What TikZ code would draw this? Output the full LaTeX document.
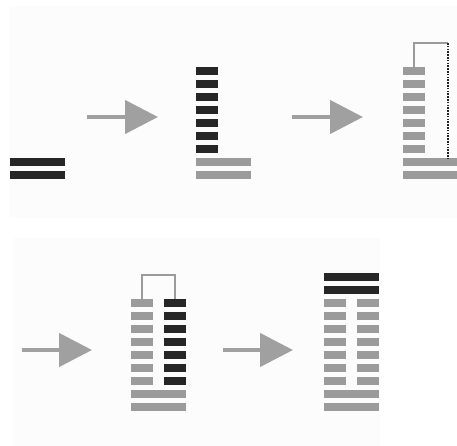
\documentclass[tikz,border=0pt]{standalone}
\usepackage{tikz}
\usetikzlibrary{positioning, arrows.meta}
\definecolor{stDark}{HTML}{262626}
\definecolor{stGray}{HTML}{9B9B9B}
\definecolor{stArrow}{HTML}{A0A0A0}
\definecolor{stPanel}{HTML}{FCFCFC}
\tikzset{
    stBarBase/.style={
        rectangle,
        inner sep=0pt,
        outer sep=0pt,
        minimum height=8pt,
        anchor=north west
    },
    % Bar variants
    shortDark/.style={stBarBase, minimum width=22pt, fill=stDark},
    shortGray/.style={stBarBase, minimum width=22pt, fill=stGray},
    longDark/.style={stBarBase, minimum width=55pt, fill=stDark},
    longGray/.style={stBarBase, minimum width=55pt, fill=stGray},
    % Arrows and links
    stArrowBase/.style={-{Triangle[length=33pt, width=33pt]}, line width=4.5pt, draw=stArrow},
    stLink/.style={draw=stGray, line width=1.3pt},
    stLinkDotted/.style={draw=stDark, line width=1.6pt, dash pattern=on 1.6pt off 1.2pt},
    panel/.style={fill=stPanel, draw=none}
}

\begin{document}
\begin{tikzpicture}[x=1pt, y=-1pt]
\useasboundingbox (0,0) rectangle (457,446);
\fill[panel] (9,6) rectangle (457,218);
\fill[panel] (14,238) rectangle (380,446);

% Step 1
\node[longDark] (l1a) at (10,158) {};
\node[longDark] (l1b) at (10,171) {};

% Step 2
\foreach \i in {1,...,7}
    \node[shortDark] (s2r\i) at (196,{54+13*\i}) {};
\node[longGray] (l2a) at (196,158) {};
\node[longGray] (l2b) at (196,171) {};

% Step 3
\foreach \i in {1,...,7}
    \node[shortGray] (s3r\i) at (403,{54+13*\i}) {};
\node[longGray] (l3a) at (403,158) {};
\node[longGray] (l3b) at (403,171) {};
\coordinate (c3top) at (448,43);
\draw[stLink] (s3r1.north) |- (c3top);
\draw[stLinkDotted] (c3top) -- (c3top |- l3a.north);

% Step 4
\foreach \i in {1,...,7} {
    \node[shortGray] (s4l\i) at (131,{286+13*\i}) {};
    \node[shortDark] (s4r\i) at (164,{286+13*\i}) {};
}
\node[longGray] (l4a) at (131,390) {};
\node[longGray] (l4b) at (131,403) {};
\draw[stLink] (s4l1.north) -- ++(0,-24) -| (s4r1.north);

% Step 5
\node[longDark] (l5top) at (324,273) {};
\node[longDark, below=5pt of l5top.south west, anchor=north west] (l5mid) {};
\foreach \i in {1,...,7} {
    \node[shortGray] (s5l\i) at (324,{286+13*\i}) {};
    \node[shortGray] (s5r\i) at (357,{286+13*\i}) {};
}
\node[longGray] (l5a) at (324,390) {};
\node[longGray] (l5b) at (324,403) {};

% Arrows between steps
\coordinate (a1s) at (87,117);  \coordinate (a1e) at (158,117);
\coordinate (a2s) at (292,117); \coordinate (a2e) at (363,117);
\coordinate (a3s) at (22,350);  \coordinate (a3e) at (92,350);
\coordinate (a4s) at (223,350); \coordinate (a4e) at (293,350);
\draw[stArrowBase] (a1s) -- (a1e);
\draw[stArrowBase] (a2s) -- (a2e);
\draw[stArrowBase] (a3s) -- (a3e);
\draw[stArrowBase] (a4s) -- (a4e);
\end{tikzpicture}
\end{document}
